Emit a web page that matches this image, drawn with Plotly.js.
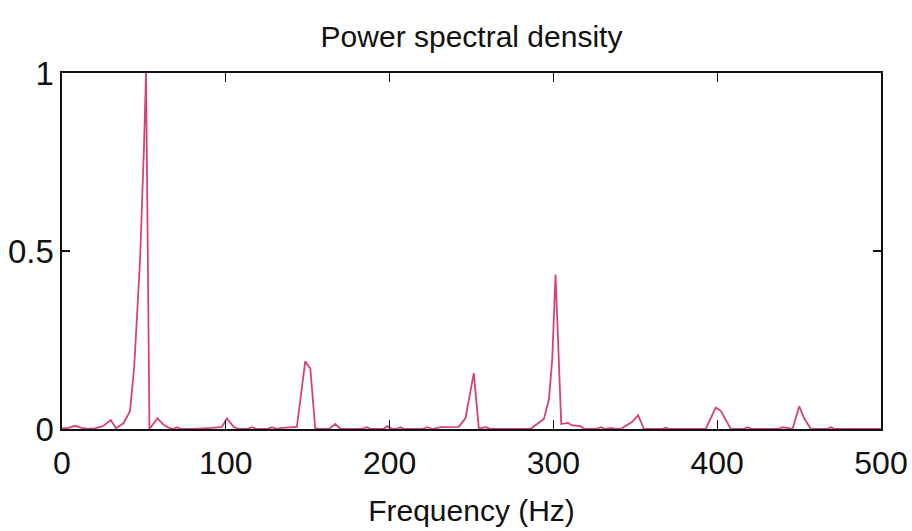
<!DOCTYPE html>
<html>
<head>
<meta charset="utf-8">
<script src="https://cdn.plot.ly/plotly-3.0.1.min.js"></script>
<style>
  html, body { margin: 0; padding: 0; background: #fff; }
  #chart { width: 912px; height: 531px; }
</style>
</head>
<body>
<div id="chart"></div>
<script>
// Frequency (Hz) and normalised PSD values
const frequency = [
  0, 4, 8, 12, 16, 20, 25, 29.8, 33, 37.5, 41.5, 44, 45.6, 47.7, 50.1, 51.3, 53.4,
  58.3, 62, 65, 68, 70, 73, 80, 91.5, 97.6, 100.7, 104.7, 108, 113, 116, 119, 125,
  128.2, 131, 134.3, 143.4, 148.5, 151.6, 154.6, 158, 163, 166.9, 170, 183, 186, 189,
  196, 198.5, 201, 204, 206.6, 209, 220, 223, 226, 228, 231, 242.2, 246.3, 251.4,
  254.5, 258.6, 262, 286, 294.2, 297.3, 299.3, 301.3, 304.8, 308.9, 311.5, 316.6,
  319, 326, 328.9, 332, 335, 338, 341, 348.2, 351.7, 355.3, 366, 368.6, 371, 393,
  399.1, 402.2, 408.3, 416, 418.5, 421, 437, 440, 446, 450.1, 453.1, 457.2, 467,
  469.4, 472, 500
];
const psd = [
  0.002, 0.003, 0.009, 0.003, 0.0, 0.002, 0.008, 0.025, 0.002, 0.016, 0.05, 0.17, 0.30, 0.48, 0.80, 1.0, 0.0,
  0.03, 0.012, 0.004, 0.0, 0.005, 0.0, 0.0, 0.003, 0.006, 0.03, 0.006, 0.0, 0.0, 0.005, 0.0, 0.0,
  0.005, 0.0, 0.003, 0.006, 0.19, 0.17, 0.002, 0.0, 0.0, 0.014, 0.0, 0.0, 0.005, 0.0,
  0.0, 0.008, 0.001, 0.0, 0.005, 0.0, 0.0, 0.005, 0.0, 0.002, 0.005, 0.006, 0.03, 0.157,
  0.001, 0.005, 0.0, 0.0, 0.028, 0.084, 0.196, 0.434, 0.014, 0.017, 0.01, 0.008,
  0.0, 0.0, 0.005, 0.0, 0.003, 0.0, 0.0, 0.02, 0.039, 0.0, 0.0, 0.004, 0.0, 0.0,
  0.06, 0.051, 0.0, 0.0, 0.005, 0.0, 0.0, 0.005, 0.0, 0.064, 0.03, 0.0, 0.0,
  0.005, 0.0, 0.0
];
const xTicks = [0, 100, 200, 300, 400, 500];
const xTickLabels = ["0", "100", "200", "300", "400", "500"];
const yTicks = [0, 0.5, 1];
const yTickLabels = ["0", "0.5", "1"];

const FONT = '"Liberation Sans", Arial, sans-serif';

const trace = {
  x: frequency,
  y: psd,
  type: 'scatter',
  mode: 'lines',
  line: { color: '#d6436f', width: 1.8 },
  hoverinfo: 'skip'
};

const layout = {
  width: 912,
  height: 531,
  margin: { l: 62, r: 31, t: 73, b: 102 },
  paper_bgcolor: '#ffffff',
  plot_bgcolor: '#ffffff',
  showlegend: false,
  title: {
    text: 'Power spectral density',
    font: { family: FONT, size: 30, color: '#111' },
    x: 0.517, xanchor: 'center',
    y: 0.932, yanchor: 'middle', yref: 'container'
  },
  xaxis: {
    range: [0, 500],
    tickvals: xTicks,
    ticktext: xTickLabels,
    ticks: 'inside',
    ticklen: 9,
    tickwidth: 1.3,
    tickcolor: '#111',
    showline: true,
    linecolor: '#111',
    linewidth: 1.6,
    mirror: 'ticks',
    showgrid: false,
    zeroline: false,
    ticklabelstandoff: 5,
    tickfont: { family: FONT, size: 32, color: '#111' },
    title: {
      text: 'Frequency (Hz)',
      font: { family: FONT, size: 30, color: '#111' },
      standoff: 20
    }
  },
  yaxis: {
    range: [0, 1],
    tickvals: yTicks,
    ticktext: yTickLabels,
    ticks: 'inside',
    ticklen: 8,
    tickwidth: 1.3,
    tickcolor: '#111',
    showline: true,
    linecolor: '#111',
    linewidth: 1.6,
    mirror: 'ticks',
    showgrid: false,
    zeroline: false,
    tickfont: { family: FONT, size: 33, color: '#111' }
  }
};

Plotly.newPlot('chart', [trace], layout, { staticPlot: true, displayModeBar: false });
</script>
</body>
</html>
